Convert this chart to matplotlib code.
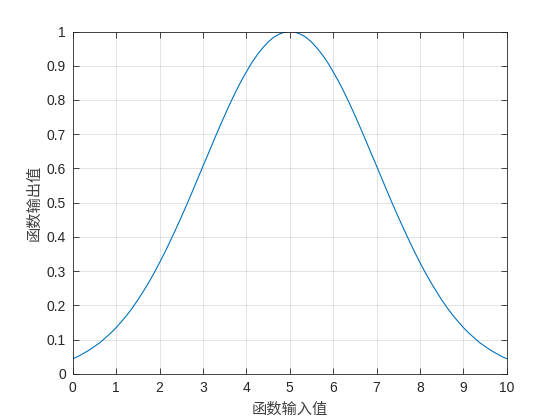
import numpy as np
import matplotlib
matplotlib.use('Agg')
import matplotlib.pyplot as plt

x_vals = [i * 0.125 for i in range(81)]
y_left = [0.044, 0.051, 0.060, 0.069, 0.080, 0.091, 0.105, 0.119, 0.135,
          0.153, 0.172, 0.193, 0.216, 0.241, 0.267, 0.295, 0.325, 0.356,
          0.389, 0.423, 0.458, 0.494, 0.531, 0.569, 0.607, 0.644, 0.682,
          0.719, 0.755, 0.790, 0.823, 0.854, 0.882, 0.909, 0.932, 0.952,
          0.969, 0.983, 0.992, 0.998, 1.0]
y_vals = y_left + y_left[-2::-1]

x_ticks = list(range(0, 11))
y_ticks = [0, 0.1, 0.2, 0.3, 0.4, 0.5, 0.6, 0.7, 0.8, 0.9, 1]
y_tick_labels = ['0', '0.1', '0.2', '0.3', '0.4', '0.5', '0.6', '0.7', '0.8', '0.9', '1']

plt.rcParams['font.family'] = ['Liberation Sans', 'DejaVu Sans']
cjk = ['Noto Sans CJK SC', 'DejaVu Sans']

fig = plt.figure(figsize=(5.6, 4.2), dpi=100)
ax = fig.add_axes([0.13, 0.11, 0.775, 0.815])
ax.plot(x_vals, y_vals, color='#0072BD', lw=0.8)

ax.set_xlim(0, 10)
ax.set_ylim(0, 1)
ax.set_xticks(x_ticks)
ax.set_yticks(y_ticks)
ax.set_yticklabels(y_tick_labels)
ax.grid(True, color='#262626', alpha=0.15, lw=0.6)
ax.tick_params(direction='in', length=4, width=0.6, colors='#262626',
               labelsize=10, top=True, right=True, pad=5)
for s in ax.spines.values():
    s.set_color('#262626')
    s.set_linewidth(0.6)

ax.set_xlabel('函数输入值', family=cjk, fontsize=11, color='#404040', labelpad=4)
ax.set_ylabel('函数输出值', family=cjk, fontsize=11, color='#404040', labelpad=3)

fig.savefig('out.png', dpi=100, facecolor='white')
